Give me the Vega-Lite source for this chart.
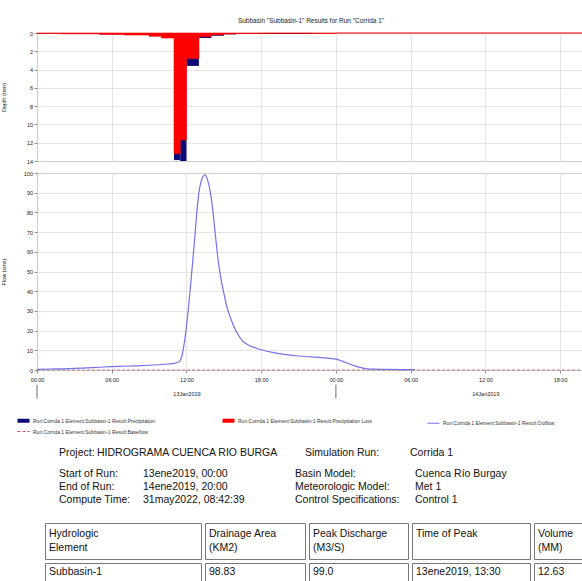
{
  "$schema": "https://vega.github.io/schema/vega-lite/v6.json",
  "padding": {"left": 0, "top": 17, "right": 0, "bottom": 0},
  "background": "white",
  "spacing": 5,
  "columns": 1,
  "align": "none",
  "resolve": {"scale": {"color": "independent"}, "legend": {"color": "independent"}},
  "datasets": {
    "flow": [
      {"hour": 0, "q": 0.3, "series": "Outflow"},
      {"hour": 1, "q": 0.5, "series": "Outflow"},
      {"hour": 2, "q": 0.6, "series": "Outflow"},
      {"hour": 3, "q": 0.8, "series": "Outflow"},
      {"hour": 4, "q": 1.1, "series": "Outflow"},
      {"hour": 5, "q": 1.4, "series": "Outflow"},
      {"hour": 6, "q": 1.7, "series": "Outflow"},
      {"hour": 7, "q": 1.9, "series": "Outflow"},
      {"hour": 8, "q": 2.1, "series": "Outflow"},
      {"hour": 9, "q": 2.4, "series": "Outflow"},
      {"hour": 10, "q": 2.8, "series": "Outflow"},
      {"hour": 11, "q": 3.4, "series": "Outflow"},
      {"hour": 11.333, "q": 3.9, "series": "Outflow"},
      {"hour": 11.5, "q": 5.0, "series": "Outflow"},
      {"hour": 11.667, "q": 8.0, "series": "Outflow"},
      {"hour": 11.833, "q": 14.0, "series": "Outflow"},
      {"hour": 12, "q": 22.0, "series": "Outflow"},
      {"hour": 12.167, "q": 32.0, "series": "Outflow"},
      {"hour": 12.333, "q": 43.0, "series": "Outflow"},
      {"hour": 12.5, "q": 55.0, "series": "Outflow"},
      {"hour": 12.667, "q": 67.0, "series": "Outflow"},
      {"hour": 12.833, "q": 80.0, "series": "Outflow"},
      {"hour": 13, "q": 90.0, "series": "Outflow"},
      {"hour": 13.167, "q": 95.5, "series": "Outflow"},
      {"hour": 13.333, "q": 98.3, "series": "Outflow"},
      {"hour": 13.5, "q": 99.0, "series": "Outflow"},
      {"hour": 13.667, "q": 97.0, "series": "Outflow"},
      {"hour": 13.833, "q": 93.0, "series": "Outflow"},
      {"hour": 14, "q": 87.0, "series": "Outflow"},
      {"hour": 14.167, "q": 78.0, "series": "Outflow"},
      {"hour": 14.333, "q": 68.0, "series": "Outflow"},
      {"hour": 14.5, "q": 58.0, "series": "Outflow"},
      {"hour": 14.75, "q": 47.0, "series": "Outflow"},
      {"hour": 15, "q": 39.0, "series": "Outflow"},
      {"hour": 15.25, "q": 32.0, "series": "Outflow"},
      {"hour": 15.5, "q": 27.0, "series": "Outflow"},
      {"hour": 16, "q": 19.5, "series": "Outflow"},
      {"hour": 16.5, "q": 14.8, "series": "Outflow"},
      {"hour": 17, "q": 12.6, "series": "Outflow"},
      {"hour": 17.5, "q": 11.3, "series": "Outflow"},
      {"hour": 18, "q": 10.3, "series": "Outflow"},
      {"hour": 19, "q": 8.8, "series": "Outflow"},
      {"hour": 20, "q": 7.8, "series": "Outflow"},
      {"hour": 21, "q": 7.1, "series": "Outflow"},
      {"hour": 22, "q": 6.7, "series": "Outflow"},
      {"hour": 23, "q": 6.2, "series": "Outflow"},
      {"hour": 24, "q": 5.5, "series": "Outflow"},
      {"hour": 24.5, "q": 4.5, "series": "Outflow"},
      {"hour": 25, "q": 3.3, "series": "Outflow"},
      {"hour": 25.5, "q": 2.1, "series": "Outflow"},
      {"hour": 26, "q": 1.2, "series": "Outflow"},
      {"hour": 26.5, "q": 0.6, "series": "Outflow"},
      {"hour": 27, "q": 0.4, "series": "Outflow"},
      {"hour": 28, "q": 0.3, "series": "Outflow"},
      {"hour": 30.333, "q": 0.2, "series": "Outflow"}
    ],
    "base": [
      {"hour": 0, "q": 0, "series": "Baseflow"},
      {"hour": 44, "q": 0, "series": "Baseflow"}
    ],
    "dayticks": [
      {"hour": 0},
      {"hour": 24}
    ],
    "precip": [
      {"start": 0, "end": 2, "precip": 0.05, "loss": 0.05},
      {"start": 2, "end": 5, "precip": 0.09, "loss": 0.09},
      {"start": 5, "end": 7, "precip": 0.15, "loss": 0.15},
      {"start": 7, "end": 9, "precip": 0.22, "loss": 0.22},
      {"start": 9, "end": 10, "precip": 0.35, "loss": 0.35},
      {"start": 10, "end": 11, "precip": 0.55, "loss": 0.55},
      {"start": 11, "end": 11.5, "precip": 13.9, "loss": 13.2},
      {"start": 11.5, "end": 12, "precip": 14.0, "loss": 11.7},
      {"start": 12, "end": 13, "precip": 3.6, "loss": 2.8},
      {"start": 13, "end": 14, "precip": 0.55, "loss": 0.4},
      {"start": 14, "end": 15, "precip": 0.3, "loss": 0.2},
      {"start": 15, "end": 16, "precip": 0.15, "loss": 0.1},
      {"start": 16, "end": 18, "precip": 0.08, "loss": 0.06},
      {"start": 18, "end": 22, "precip": 0.08, "loss": 0.03},
      {"start": 22, "end": 24, "precip": 0.05, "loss": 0.05},
      {"start": 24, "end": 44, "precip": 0, "loss": 0}
    ],
    "info": [
      {"b": "p", "c": 1, "line": 1, "text": "Project:"},
      {"b": "p", "c": 2, "line": 1, "text": "HIDROGRAMA CUENCA RIO BURGA"},
      {"b": "p", "c": 3, "line": 1, "text": "Simulation Run:"},
      {"b": "p", "c": 4, "line": 1, "text": "Corrida 1"},
      {"b": "r", "c": 1, "line": 1, "text": "Start of Run:"},
      {"b": "r", "c": 1, "line": 2, "text": "End of Run:"},
      {"b": "r", "c": 1, "line": 3, "text": "Compute Time:"},
      {"b": "r", "c": 2, "line": 1, "text": "13ene2019, 00:00"},
      {"b": "r", "c": 2, "line": 2, "text": "14ene2019, 20:00"},
      {"b": "r", "c": 2, "line": 3, "text": "31may2022, 08:42:39"},
      {"b": "r", "c": 3, "line": 1, "text": "Basin Model:"},
      {"b": "r", "c": 3, "line": 2, "text": "Meteorologic Model:"},
      {"b": "r", "c": 3, "line": 3, "text": "Control Specifications:"},
      {"b": "r", "c": 4, "line": 1, "text": "Cuenca Río Burgay"},
      {"b": "r", "c": 4, "line": 2, "text": "Met 1"},
      {"b": "r", "c": 4, "line": 3, "text": "Control 1"}
    ],
    "table": [
      {"c": 1, "p": "h", "line": 1, "text": "Hydrologic"},
      {"c": 1, "p": "h", "line": 2, "text": "Element"},
      {"c": 2, "p": "h", "line": 1, "text": "Drainage Area"},
      {"c": 2, "p": "h", "line": 2, "text": "(KM2)"},
      {"c": 3, "p": "h", "line": 1, "text": "Peak Discharge"},
      {"c": 3, "p": "h", "line": 2, "text": "(M3/S)"},
      {"c": 4, "p": "h", "line": 1, "text": "Time of Peak"},
      {"c": 5, "p": "h", "line": 1, "text": "Volume"},
      {"c": 5, "p": "h", "line": 2, "text": "(MM)"},
      {"c": 1, "p": "d", "line": 1, "text": "Subbasin-1"},
      {"c": 2, "p": "d", "line": 1, "text": "98.83"},
      {"c": 3, "p": "d", "line": 1, "text": "99.0"},
      {"c": 4, "p": "d", "line": 1, "text": "13ene2019, 13:30"},
      {"c": 5, "p": "d", "line": 1, "text": "12.63"}
    ]
  },
  "concat": [
    {
      "width": 548,
      "height": 128,
      "title": {"text": "Subbasin \"Subbasin-1\" Results for Run \"Corrida 1\"", "fontSize": 6.5, "fontWeight": "normal", "color": "#222", "offset": 7, "anchor": "middle"},
      "data": {"name": "precip"},
      "encoding": {
        "x": {"field": "start", "type": "quantitative", "scale": {"domain": [0, 44], "nice": false, "zero": false}, "axis": {"labels": false, "ticks": false, "domain": false, "grid": true, "values": [0, 6, 12, 18, 24, 30, 36, 42], "tickCount": 20, "title": null}},
        "x2": {"field": "end"},
        "y2": {"datum": 0}
      },
      "layer": [
        {
          "mark": {"type": "bar", "color": "#0b0b78"},
          "encoding": {
            "y": {"field": "precip", "type": "quantitative", "scale": {"domain": [0, 14], "reverse": true, "nice": false}, "axis": {"values": [0, 2, 4, 6, 8, 10, 12, 14], "tickCount": 20, "format": "d", "title": "Depth (mm)", "grid": true, "domain": false, "labelOverlap": false, "labelPadding": 1.5, "minExtent": 14, "maxExtent": 14, "titlePadding": 17}}
          }
        },
        {
          "mark": {"type": "bar", "color": "#ff0000", "stroke": "#ff0000", "strokeWidth": 0.6},
          "encoding": {"y": {"field": "loss", "type": "quantitative"}}
        }
      ]
    },
    {
      "width": 548,
      "height": 197,
      "encoding": {
        "x": {"field": "hour", "type": "quantitative", "scale": {"domain": [0, 44], "nice": false, "zero": false}, "axis": {"values": [0, 6, 12, 18, 24, 30, 36, 42], "tickCount": 20, "grid": true, "domain": false, "title": null, "labelFlush": false, "labelOverlap": false, "labelPadding": 4, "labelLineHeight": 14, "labelExpr": "datum.value === 12 ? ['12:00', '13Jan2019'] : datum.value === 36 ? ['12:00', '14Jan2019'] : ((datum.value % 24) < 10 ? '0' : '') + (datum.value % 24) + ':00'"}}
      },
      "layer": [
        {
          "data": {"name": "base"},
          "mark": {"type": "line", "strokeWidth": 0.8, "strokeDash": [3, 2]},
          "encoding": {
            "y": {"field": "q", "type": "quantitative", "scale": {"domain": [0, 100], "nice": false}, "axis": {"values": [0, 10, 20, 30, 40, 50, 60, 70, 80, 90, 100], "tickCount": 20, "format": "d", "title": "Flow (cms)", "grid": true, "domain": false, "labelOverlap": false, "labelPadding": 1.5, "minExtent": 14, "maxExtent": 14, "titlePadding": 17}},
            "color": {"field": "series", "type": "nominal", "scale": {"domain": ["Precipitation", "Precipitation Loss", "Outflow", "Baseflow"], "range": ["#0b0b78", "#ff0000", "#7272ee", "#c05a4d"]},
              "legend": {"title": null, "orient": "none", "legendX": -16, "legendY": 245, "direction": "horizontal", "columns": 3, "gridAlign": "all", "columnPadding": 47, "rowPadding": 0, "padding": 0, "symbolType": "stroke", "symbolSize": 144, "symbolStrokeWidth": 1.2, "labelFontSize": 5, "labelColor": "#333", "labelOffset": 7, "labelLimit": 300, "labelExpr": "'Run:Corrida 1 Element:Subbasin-1 Result:' + datum.label",
                "encode": {"symbols": {"update": {"strokeWidth": {"signal": "datum.value === 'Outflow' || datum.value === 'Baseflow' ? 1.2 : 4"}, "strokeDash": {"signal": "datum.value === 'Baseflow' ? [3, 2] : [1, 0]"}}}}}}
          }
        },
        {
          "data": {"name": "flow"},
          "mark": {"type": "line", "strokeWidth": 1.2, "interpolate": "monotone"},
          "encoding": {
            "y": {"field": "q", "type": "quantitative"},
            "color": {"field": "series", "type": "nominal"}
          }
        },
        {
          "data": {"name": "dayticks"},
          "mark": {"type": "rule", "color": "#444", "strokeWidth": 0.8},
          "encoding": {"y": {"datum": -7.5, "type": "quantitative"}, "y2": {"datum": -14.5}}
        }
      ]
    },
    {
      "spacing": 0,
      "vconcat": [
        {
          "spacing": 0,
          "hconcat": [
            {"width": 60, "height": 24, "data": {"name": "info"}, "transform": [{"filter": "datum.b === 'p' && datum.c === 1"}], "mark": {"type": "text", "align": "left", "baseline": "middle", "fontSize": 10.5, "dx": 22, "color": "#111"}, "encoding": {"x": {"datum": 0, "type": "quantitative", "scale": {"domain": [0, 1]}, "axis": null}, "y": {"field": "line", "type": "ordinal", "axis": null}, "text": {"field": "text"}}, "view": {"stroke": null}},
            {"width": 208, "height": 24, "data": {"name": "info"}, "transform": [{"filter": "datum.b === 'p' && datum.c === 2"}], "mark": {"type": "text", "align": "left", "baseline": "middle", "fontSize": 10.5, "color": "#111"}, "encoding": {"x": {"datum": 0, "type": "quantitative", "scale": {"domain": [0, 1]}, "axis": null}, "y": {"field": "line", "type": "ordinal", "axis": null}, "text": {"field": "text"}}, "view": {"stroke": null}},
            {"width": 105, "height": 24, "data": {"name": "info"}, "transform": [{"filter": "datum.b === 'p' && datum.c === 3"}], "mark": {"type": "text", "align": "left", "baseline": "middle", "fontSize": 10.5, "color": "#111"}, "encoding": {"x": {"datum": 0, "type": "quantitative", "scale": {"domain": [0, 1]}, "axis": null}, "y": {"field": "line", "type": "ordinal", "axis": null}, "text": {"field": "text"}}, "view": {"stroke": null}},
            {"width": 209, "height": 24, "data": {"name": "info"}, "transform": [{"filter": "datum.b === 'p' && datum.c === 4"}], "mark": {"type": "text", "align": "left", "baseline": "middle", "fontSize": 10.5, "color": "#111"}, "encoding": {"x": {"datum": 0, "type": "quantitative", "scale": {"domain": [0, 1]}, "axis": null}, "y": {"field": "line", "type": "ordinal", "axis": null}, "text": {"field": "text"}}, "view": {"stroke": null}}
          ]
        },
        {
          "spacing": 0,
          "hconcat": [
            {"width": 106, "height": 57, "data": {"name": "info"}, "transform": [{"filter": "datum.b === 'r' && datum.c === 1"}], "mark": {"type": "text", "align": "left", "baseline": "middle", "fontSize": 10.5, "dx": 22, "color": "#111"}, "encoding": {"x": {"datum": 0, "type": "quantitative", "scale": {"domain": [0, 1]}, "axis": null}, "y": {"field": "line", "type": "ordinal", "scale": {"domain": [1, 2, 3, 4], "padding": 0.69}, "axis": null}, "text": {"field": "text"}}, "view": {"stroke": null}},
            {"width": 152, "height": 57, "data": {"name": "info"}, "transform": [{"filter": "datum.b === 'r' && datum.c === 2"}], "mark": {"type": "text", "align": "left", "baseline": "middle", "fontSize": 10.5, "color": "#111"}, "encoding": {"x": {"datum": 0, "type": "quantitative", "scale": {"domain": [0, 1]}, "axis": null}, "y": {"field": "line", "type": "ordinal", "scale": {"domain": [1, 2, 3, 4], "padding": 0.69}, "axis": null}, "text": {"field": "text"}}, "view": {"stroke": null}},
            {"width": 120, "height": 57, "data": {"name": "info"}, "transform": [{"filter": "datum.b === 'r' && datum.c === 3"}], "mark": {"type": "text", "align": "left", "baseline": "middle", "fontSize": 10.5, "color": "#111"}, "encoding": {"x": {"datum": 0, "type": "quantitative", "scale": {"domain": [0, 1]}, "axis": null}, "y": {"field": "line", "type": "ordinal", "scale": {"domain": [1, 2, 3, 4], "padding": 0.69}, "axis": null}, "text": {"field": "text"}}, "view": {"stroke": null}},
            {"width": 204, "height": 57, "data": {"name": "info"}, "transform": [{"filter": "datum.b === 'r' && datum.c === 4"}], "mark": {"type": "text", "align": "left", "baseline": "middle", "fontSize": 10.5, "color": "#111"}, "encoding": {"x": {"datum": 0, "type": "quantitative", "scale": {"domain": [0, 1]}, "axis": null}, "y": {"field": "line", "type": "ordinal", "scale": {"domain": [1, 2, 3, 4], "padding": 0.69}, "axis": null}, "text": {"field": "text"}}, "view": {"stroke": null}}
          ]
        },
        {
          "spacing": 2,
          "vconcat": [
            {
              "spacing": 2,
              "hconcat": [
                {"width": 3, "height": 36, "data": {"values": [{"a": 1}]}, "mark": {"type": "point", "opacity": 0}, "encoding": {}, "view": {"stroke": null}},
                {"width": 156, "height": 36, "data": {"name": "table"}, "transform": [{"filter": "datum.p === 'h' && datum.c === 1"}], "mark": {"type": "text", "align": "left", "baseline": "middle", "fontSize": 10.5, "dx": 4, "color": "#111"}, "encoding": {"x": {"datum": 0, "type": "quantitative", "scale": {"domain": [0, 1]}, "axis": null}, "y": {"field": "line", "type": "ordinal", "scale": {"domain": [1, 2], "padding": 0.8}, "axis": null}, "text": {"field": "text"}}, "view": {"stroke": "#777"}},
                {"width": 100, "height": 36, "data": {"name": "table"}, "transform": [{"filter": "datum.p === 'h' && datum.c === 2"}], "mark": {"type": "text", "align": "left", "baseline": "middle", "fontSize": 10.5, "dx": 4, "color": "#111"}, "encoding": {"x": {"datum": 0, "type": "quantitative", "scale": {"domain": [0, 1]}, "axis": null}, "y": {"field": "line", "type": "ordinal", "scale": {"domain": [1, 2], "padding": 0.8}, "axis": null}, "text": {"field": "text"}}, "view": {"stroke": "#777"}},
                {"width": 99, "height": 36, "data": {"name": "table"}, "transform": [{"filter": "datum.p === 'h' && datum.c === 3"}], "mark": {"type": "text", "align": "left", "baseline": "middle", "fontSize": 10.5, "dx": 4, "color": "#111"}, "encoding": {"x": {"datum": 0, "type": "quantitative", "scale": {"domain": [0, 1]}, "axis": null}, "y": {"field": "line", "type": "ordinal", "scale": {"domain": [1, 2], "padding": 0.8}, "axis": null}, "text": {"field": "text"}}, "view": {"stroke": "#777"}},
                {"width": 118, "height": 36, "data": {"name": "table"}, "transform": [{"filter": "datum.p === 'h' && datum.c === 4"}], "mark": {"type": "text", "align": "left", "baseline": "middle", "fontSize": 10.5, "dx": 4, "color": "#111"}, "encoding": {"x": {"datum": 0, "type": "quantitative", "scale": {"domain": [0, 1]}, "axis": null}, "y": {"field": "line", "type": "ordinal", "scale": {"domain": [1, 2], "padding": 0.8}, "axis": null}, "text": {"field": "text"}}, "view": {"stroke": "#777"}},
                {"width": 94, "height": 36, "data": {"name": "table"}, "transform": [{"filter": "datum.p === 'h' && datum.c === 5"}], "mark": {"type": "text", "align": "left", "baseline": "middle", "fontSize": 10.5, "dx": 4, "color": "#111"}, "encoding": {"x": {"datum": 0, "type": "quantitative", "scale": {"domain": [0, 1]}, "axis": null}, "y": {"field": "line", "type": "ordinal", "scale": {"domain": [1, 2], "padding": 0.8}, "axis": null}, "text": {"field": "text"}}, "view": {"stroke": "#777"}}
              ]
            },
            {
              "spacing": 2,
              "hconcat": [
                {"width": 3, "height": 18, "data": {"values": [{"a": 1}]}, "mark": {"type": "point", "opacity": 0}, "encoding": {}, "view": {"stroke": null}},
                {"width": 156, "height": 18, "data": {"name": "table"}, "transform": [{"filter": "datum.p === 'd' && datum.c === 1"}], "mark": {"type": "text", "align": "left", "baseline": "middle", "fontSize": 10.5, "dx": 4, "color": "#111"}, "encoding": {"x": {"datum": 0, "type": "quantitative", "scale": {"domain": [0, 1]}, "axis": null}, "y": {"field": "line", "type": "ordinal", "axis": null}, "text": {"field": "text"}}, "view": {"stroke": "#777"}},
                {"width": 100, "height": 18, "data": {"name": "table"}, "transform": [{"filter": "datum.p === 'd' && datum.c === 2"}], "mark": {"type": "text", "align": "left", "baseline": "middle", "fontSize": 10.5, "dx": 4, "color": "#111"}, "encoding": {"x": {"datum": 0, "type": "quantitative", "scale": {"domain": [0, 1]}, "axis": null}, "y": {"field": "line", "type": "ordinal", "axis": null}, "text": {"field": "text"}}, "view": {"stroke": "#777"}},
                {"width": 99, "height": 18, "data": {"name": "table"}, "transform": [{"filter": "datum.p === 'd' && datum.c === 3"}], "mark": {"type": "text", "align": "left", "baseline": "middle", "fontSize": 10.5, "dx": 4, "color": "#111"}, "encoding": {"x": {"datum": 0, "type": "quantitative", "scale": {"domain": [0, 1]}, "axis": null}, "y": {"field": "line", "type": "ordinal", "axis": null}, "text": {"field": "text"}}, "view": {"stroke": "#777"}},
                {"width": 118, "height": 18, "data": {"name": "table"}, "transform": [{"filter": "datum.p === 'd' && datum.c === 4"}], "mark": {"type": "text", "align": "left", "baseline": "middle", "fontSize": 10.5, "dx": 4, "color": "#111"}, "encoding": {"x": {"datum": 0, "type": "quantitative", "scale": {"domain": [0, 1]}, "axis": null}, "y": {"field": "line", "type": "ordinal", "axis": null}, "text": {"field": "text"}}, "view": {"stroke": "#777"}},
                {"width": 94, "height": 18, "data": {"name": "table"}, "transform": [{"filter": "datum.p === 'd' && datum.c === 5"}], "mark": {"type": "text", "align": "left", "baseline": "middle", "fontSize": 10.5, "dx": 4, "color": "#111"}, "encoding": {"x": {"datum": 0, "type": "quantitative", "scale": {"domain": [0, 1]}, "axis": null}, "y": {"field": "line", "type": "ordinal", "axis": null}, "text": {"field": "text"}}, "view": {"stroke": "#777"}}
              ]
            }
          ]
        }
      ]
    }
  ],
  "config": {
    "font": "Liberation Sans",
    "view": {"stroke": "#8a8a8a", "strokeWidth": 1},
    "axis": {"labelFont": "Liberation Sans", "titleFont": "Liberation Sans", "labelFontSize": 5.5, "titleFontSize": 5.5, "titleFontWeight": "normal", "labelColor": "#222", "titleColor": "#222", "tickColor": "#777", "domainColor": "#888", "gridColor": "#dedede", "gridWidth": 0.8, "tickSize": 3, "tickWidth": 0.8},
    "legend": {"labelFont": "Liberation Sans"},
    "text": {"font": "Liberation Sans"}
  }
}
